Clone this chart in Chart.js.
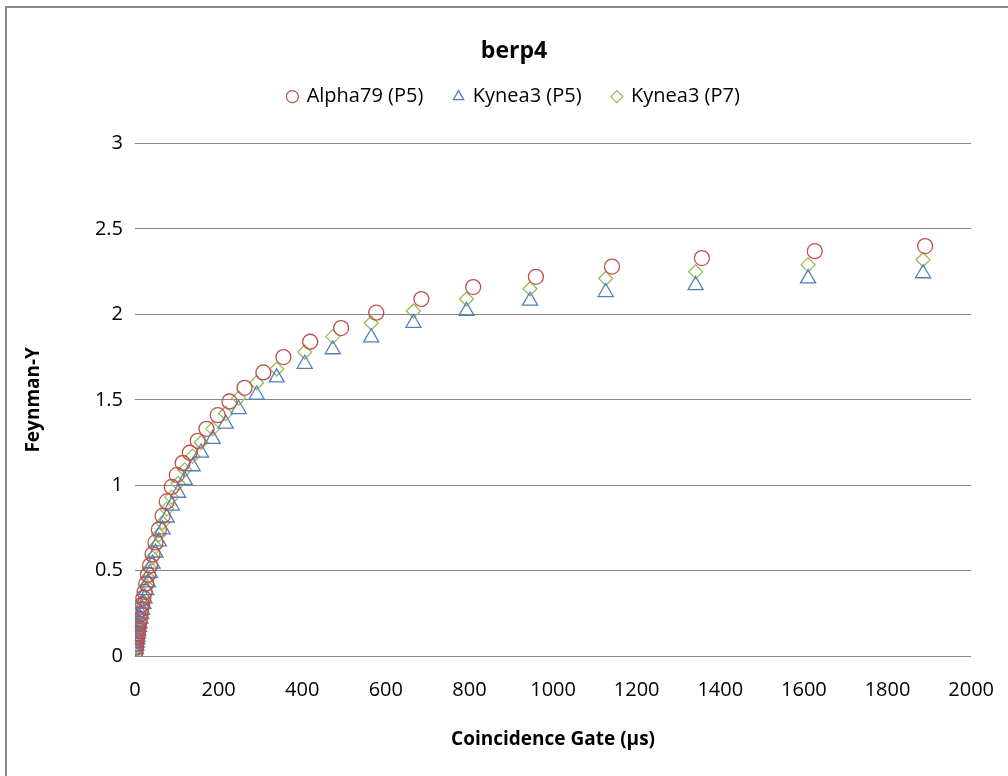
<!DOCTYPE html>
<html>
<head>
<meta charset="utf-8">
<script src="https://cdn.jsdelivr.net/npm/chart.js@4.4.1/dist/chart.umd.min.js"></script>
<style>
  html, body { margin: 0; padding: 0; background: #fff; }
  #wrap { width: 1008px; height: 776px; }
</style>
</head>
<body>
<div id="wrap"><canvas id="myChart" width="1008" height="776"></canvas></div>
<script>
const seriesNames = ['Alpha79 (P5)', 'Kynea3 (P5)', 'Kynea3 (P7)'];

// gate widths (µs)
const alphaGate = [1, 2, 3, 4, 5, 6, 7, 8, 9.5, 11, 13, 15, 17, 20, 23, 27, 31, 36, 42, 49, 57, 66, 76, 88,
  100, 114, 131, 150, 171, 198, 226, 262, 307, 355, 419, 493, 577, 685, 809, 959, 1141, 1356, 1626, 1890];
const alphaY = [0.027, 0.048, 0.07, 0.09, 0.11, 0.13, 0.15, 0.165, 0.19, 0.215, 0.245, 0.275, 0.3, 0.34, 0.375,
  0.425, 0.475, 0.53, 0.595, 0.665, 0.74, 0.82, 0.905, 0.99, 1.06, 1.13, 1.19, 1.26, 1.33, 1.41, 1.49, 1.57,
  1.66, 1.75, 1.84, 1.92, 2.01, 2.09, 2.16, 2.22, 2.28, 2.33, 2.37, 2.40];

const kyneaGate = [1, 2, 3, 4, 5, 6, 7, 8, 9.5, 11, 13, 15, 17, 20, 23, 27, 31, 36, 42, 49, 57, 66, 76, 88,
  103, 119, 138, 158, 186, 217, 248, 291, 339, 406, 473, 565, 666, 793, 945, 1126, 1341, 1610, 1885];
const kyneaP5Y = [0.02, 0.04, 0.06, 0.078, 0.097, 0.113, 0.13, 0.145, 0.17, 0.19, 0.218, 0.245, 0.27, 0.305,
  0.337, 0.385, 0.43, 0.485, 0.54, 0.605, 0.67, 0.74, 0.81, 0.88, 0.955, 1.03, 1.11, 1.19, 1.27, 1.36, 1.445,
  1.53, 1.63, 1.71, 1.795, 1.865, 1.95, 2.02, 2.08, 2.13, 2.17, 2.21, 2.24];
const kyneaP7Y = [0.025, 0.045, 0.065, 0.085, 0.105, 0.12, 0.14, 0.155, 0.18, 0.2, 0.23, 0.26, 0.285, 0.32,
  0.355, 0.41, 0.46, 0.515, 0.575, 0.64, 0.71, 0.78, 0.86, 0.93, 1.01, 1.09, 1.17, 1.25, 1.33, 1.42, 1.51,
  1.60, 1.68, 1.78, 1.87, 1.95, 2.02, 2.09, 2.15, 2.21, 2.25, 2.29, 2.32];

const colors = ['#C0504D', '#4F81BD', '#9BBB59'];
const FONT = '"Open Sans", "Noto Sans", sans-serif';

function toPoints(xs, ys) {
  return xs.map((x, i) => ({ x: x, y: ys[i] }));
}

const frame = {
  id: 'frame',
  beforeDraw(chart) {
    const c = chart.ctx;
    c.save();
    c.fillStyle = '#fff';
    c.fillRect(0, 0, chart.width, chart.height);
    c.strokeStyle = '#8a8a8a';
    c.lineWidth = 2;
    c.beginPath();
    c.moveTo(6, chart.height);
    c.lineTo(6, 7);
    c.lineTo(chart.width, 7);
    c.stroke();
    c.restore();
  }
};

// empty axes, only used to hold space around the plot
const gapAxis = (axis, position, size) => ({
  type: 'linear',
  axis: axis,
  position: position,
  min: 0,
  max: 1,
  afterFit: (s) => {
    if (axis === 'x') s.height = size; else s.width = size;
  },
  ticks: { display: false },
  grid: { display: false },
  border: { display: false }
});

const ctx = document.getElementById('myChart').getContext('2d');
const myChart = new Chart(ctx, {
  type: 'scatter',
  data: {
    datasets: [
      { label: seriesNames[0], data: toPoints(alphaGate, alphaY), pointStyle: 'circle', pointRadius: 7.5 },
      { label: seriesNames[1], data: toPoints(kyneaGate, kyneaP5Y), pointStyle: 'triangle', pointRadius: 8.7 },
      { label: seriesNames[2], data: toPoints(kyneaGate, kyneaP7Y), pointStyle: 'rectRot', pointRadius: 7 }
    ].map((d, i) => Object.assign(d, {
      xAxisID: 'x',
      yAxisID: 'y',
      borderColor: colors[i],
      backgroundColor: 'rgba(0,0,0,0)',
      pointBorderWidth: 1.3,
      pointHoverRadius: d.pointRadius,
      showLine: false
    }))
  },
  options: {
    responsive: false,
    animation: false,
    layout: { padding: { left: 20, right: 0, top: 0, bottom: 0 } },
    plugins: {
      title: {
        display: true,
        text: 'berp4',
        color: '#000',
        font: { family: FONT, size: 23, weight: 'bold' },
        padding: { top: 38, bottom: -10 }
      },
      legend: {
        display: true,
        labels: {
          usePointStyle: true,
          boxWidth: 8.5,
          boxHeight: 8.5,
          padding: 31,
          color: '#000',
          font: { family: FONT, size: 20 }
        }
      },
      tooltip: { enabled: false }
    },
    scales: {
      x: {
        type: 'linear',
        position: 'bottom',
        min: 0,
        max: 2000,
        afterFit: (s) => { s.height = 120; },
        ticks: {
          stepSize: 200, color: '#000', padding: 14, font: { family: FONT, size: 20 },
          callback: (v) => String(v)
        },
        grid: { display: false },
        border: { display: false },
        title: {
          display: true,
          text: 'Coincidence Gate (µs)',
          color: '#000',
          padding: { top: 4, bottom: 25 },
          font: { family: FONT, size: 19, weight: 'bold' }
        }
      },
      topGap: gapAxis('x', 'top', 27),
      rightGap: gapAxis('y', 'right', 35),
      y: {
        min: 0,
        max: 3,
        afterFit: (s) => { s.width = 115; },
        ticks: {
          stepSize: 0.5, color: '#000', padding: 12, font: { family: FONT, size: 20 },
          callback: (v) => String(v)
        },
        grid: { color: '#868686', lineWidth: 1, drawTicks: false },
        border: { display: false },
        title: {
          display: true,
          text: 'Feynman-Y',
          color: '#000',
          padding: { top: 2, bottom: 30 },
          font: { family: FONT, size: 19, weight: 'bold' }
        }
      }
    }
  },
  plugins: [frame]
});
</script>
</body>
</html>
